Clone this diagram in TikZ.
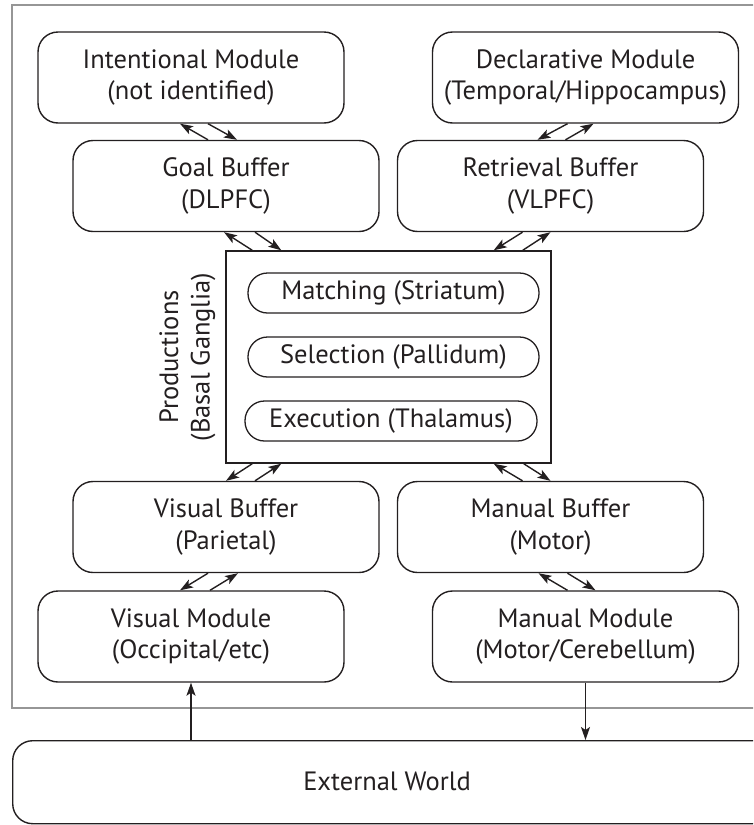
\documentclass[tikz,border=0pt]{standalone}
\usepackage{fontspec}
\setmainfont{PT Sans}
\usetikzlibrary{arrows.meta,calc}
\definecolor{ink}{RGB}{35,31,32}
\definecolor{framegray}{RGB}{150,150,150}
\newcommand{\labelfont}{\fontsize{26.5}{31.5}\selectfont}
\tikzset{
  box/.style={draw=ink, text=ink, line width=1.4pt, rounded corners=20pt, align=center,
    inner sep=0pt, font=\labelfont},
  modbox/.style={box, minimum width=306pt, minimum height=91pt},
  pill/.style={draw=ink, text=ink, line width=1.3pt, rounded corners=19.5pt, align=center,
    inner sep=0pt, minimum height=40pt, font=\labelfont},
  link/.style={draw=ink, line width=1.4pt, -{Stealth[length=13pt,width=9pt,inset=3pt]}},
}
\begin{document}
\begin{tikzpicture}[x=1pt,y=-1pt]
\useasboundingbox (0,0) rectangle (753,825);
\clip (0,0) rectangle (753,825);

% grey frame around the brain modules
\draw[framegray, line width=1.6pt] (12,5) rectangle (780,708);

% modules and buffers
\node[modbox] (int)  at (191,77.5)  {Intentional Module\\(not identified)};
\node[modbox] (goal) at (226,186)   {Goal Buffer\\(DLPFC)};
\node[modbox] (decl) at (585.5,77.5){Declarative Module\\(Temporal/Hippocampus)};
\node[modbox] (retr) at (550.5,186) {Retrieval Buffer\\(VLPFC)};
\node[modbox] (vbuf) at (226,527)   {Visual Buffer\\(Parietal)};
\node[modbox] (vmod) at (191,636.5) {Visual Module\\(Occipital/etc)};
\node[modbox] (mbuf) at (550.5,527) {Manual Buffer\\(Motor)};
\node[modbox] (mmod) at (585.5,636.5){Manual Module\\(Motor/Cerebellum)};

% production system
\node[draw=ink, line width=1.4pt, minimum width=325pt, minimum height=212pt, inner sep=0pt]
  (prod) at (388.5,357) {};
\node[pill, minimum width=291pt] (match) at (393.5,293) {Matching (Striatum)};
\node[pill, minimum width=291pt] (sel)   at (393.5,357) {Selection (Pallidum)};
\node[pill, minimum width=292pt] (exec)  at (391,421)   {Execution (Thalamus)};
\node[text=ink, rotate=90, align=center, inner sep=0pt, font=\labelfont]
  (plab) at ($(prod.west)+(-38,0)$) {Productions\\(Basal Ganglia)};

% external world
\node[box, minimum width=760pt, minimum height=83pt, anchor=north west] (ext) at (12,740) {};
\node[text=ink, font=\labelfont, inner sep=0pt] (extlab) at (387,781) {External World};

% module <-> buffer links
\draw[link] ($(goal.north)+(-18,0)$) -- ($(int.south)+(-11,0)$);
\draw[link] ($(int.south)+(17,0)$) -- ($(goal.north)+(11,0)$);
\draw[link] ($(decl.south)+(-18,0)$) -- ($(retr.north)+(-13,0)$);
\draw[link] ($(retr.north)+(15,0)$) -- ($(decl.south)+(8,0)$);
\draw[link] ($(vbuf.south)+(-18,0)$) -- ($(vmod.north)+(-11,0)$);
\draw[link] ($(vmod.north)+(19,0)$) -- ($(vbuf.south)+(12,0)$);
\draw[link] ($(mmod.north)+(-18,0)$) -- ($(mbuf.south)+(-12,0)$);
\draw[link] ($(mbuf.south)+(17,0)$) -- ($(mmod.north)+(10,0)$);

% buffer <-> productions links
\draw[link] ($(prod.north west)+(27,0)$) -- ($(goal.south)+(-2,0)$);
\draw[link] ($(goal.south)+(29,0)$) -- ($(prod.north west)+(56,0)$);
\draw[link] ($(retr.south)+(-28,0)$) -- ($(prod.north east)+(-58,0)$);
\draw[link] ($(prod.north east)+(-29,0)$) -- (retr.south);
\draw[link] ($(prod.south west)+(27,0)$) -- (vbuf.north);
\draw[link] ($(vbuf.north)+(29,0)$) -- ($(prod.south west)+(56,0)$);
\draw[link] ($(mbuf.north)+(-28,0)$) -- ($(prod.south east)+(-58,0)$);
\draw[link] ($(prod.south east)+(-28,0)$) -- (mbuf.north);

% external world links
\draw[link] (vmod.south |- ext.north) -- (vmod.south);
\draw[link] (mmod.south) -- (mmod.south |- ext.north);
\end{tikzpicture}
\end{document}
